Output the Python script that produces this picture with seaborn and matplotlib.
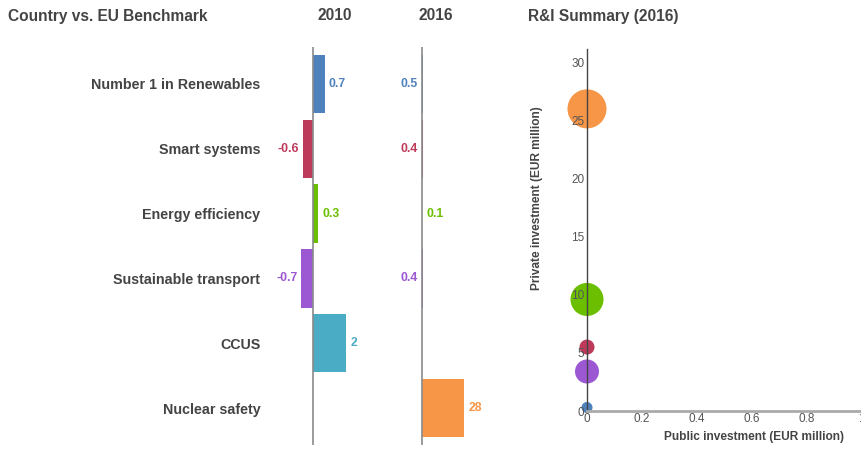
import numpy as np
import pandas as pd
import seaborn as sns
import matplotlib.pyplot as plt

# --- data ---
categories = ['Number 1 in Renewables', 'Smart systems', 'Energy efficiency',
              'Sustainable transport', 'CCUS', 'Nuclear safety']
colors = ['#4F81BD', '#BE3A5A', '#6CBF00', '#9B58D2', '#4BACC6', '#F79646']
vals_2010 = [0.7, -0.6, 0.3, -0.7, 2, np.nan]
vals_2016 = [0.5, 0.4, 0.1, 0.4, np.nan, 28]
# side where the 2016 value label sits (as in the original)
side_2016 = ['left', 'left', 'right', 'left', None, 'right']

# R&I summary bubbles (2016)
bubble_cats = ['Nuclear safety', 'Energy efficiency', 'Smart systems',
               'Sustainable transport', 'Number 1 in Renewables']
public_inv = [0, 0, 0, 0, 0]
private_inv = [26.0, 9.6, 5.5, 3.4, 0.3]
bubble_area = [790, 566, 117, 299, 63]

sns.set_theme(style='white')
plt.rcParams['font.family'] = ['Liberation Sans', 'DejaVu Sans']
TXT = '#444444'
W, H = 862, 449
fig = plt.figure(figsize=(W / 100, H / 100), dpi=100)


def px_axes(x0, y0, x1, y1):
    return fig.add_axes([x0 / W, 1 - y1 / H, (x1 - x0) / W, (y1 - y0) / H])


pal = dict(zip(categories, colors))
df = pd.DataFrame({'cat': categories, 'v2010': vals_2010, 'v2016': vals_2016})


def bar_panel(ax, col, xlim, sides=None, show_labels=False):
    sns.barplot(data=df, x=col, y='cat', hue='cat', palette=pal, orient='h',
                width=0.9, legend=False, ax=ax, saturation=1, linewidth=0)
    ax.set_xlim(*xlim)
    ax.set_ylim(5.57, -0.57)
    ax.axvline(0, color='#8a8a8a', lw=1.2, zorder=3)
    for s in ax.spines.values():
        s.set_visible(False)
    ax.set_xticks([])
    ax.set_xlabel('')
    ax.set_ylabel('')
    ax.tick_params(axis='y', length=0, pad=20)
    if show_labels:
        ax.set_yticklabels(categories, fontsize=10.3, fontweight='bold', color=TXT)
    else:
        ax.set_yticks([])
    for i, v in enumerate(df[col]):
        if np.isnan(v):
            continue
        side = sides[i] if sides else ('right' if v >= 0 else 'left')
        lab = f'{v:g}'
        off = 3 if side == 'right' else -3
        ax.annotate(lab, (max(v, 0) if side == 'right' else min(v, 0), i),
                    xytext=(off, 0), textcoords='offset points',
                    ha='left' if side == 'right' else 'right', va='center',
                    fontsize=8.8, fontweight='bold', color=colors[i])


# 2010 panel: zero at x=313 px, 16.5 px per unit
ax1 = px_axes(288, 47, 382, 445)
bar_panel(ax1, 'v2010', (-25 / 16.5, 69 / 16.5), show_labels=True)

# 2016 panel: zero at x=422 px, 1.5 px per unit
ax2 = px_axes(400, 47, 480, 445)
bar_panel(ax2, 'v2016', (-22 / 1.5, 58 / 1.5), sides=side_2016)

# bubble chart
ax3 = px_axes(587, 49, 861, 411)
bdf = pd.DataFrame({'cat': bubble_cats, 'pub': public_inv, 'priv': private_inv})
sns.scatterplot(data=bdf, x='pub', y='priv', hue='cat', palette=pal,
                size='cat', sizes=dict(zip(bubble_cats, bubble_area)),
                legend=False, linewidth=0, alpha=1, clip_on=False, zorder=1,
                ax=ax3)
ax3.set_axisbelow(False)
ax3.set_xlim(0, 1)
ax3.set_ylim(0, 31.15)
ax3.set_xticks(np.arange(0, 1.01, 0.2))
ax3.set_xticklabels(['0', '0.2', '0.4', '0.6', '0.8', '1'])
ax3.set_yticks(range(0, 31, 5))
ax3.tick_params(length=0, labelsize=8.5, labelcolor='#555555')
ax3.tick_params(axis='y', pad=2)
ax3.tick_params(axis='x', pad=1.5)
for k in ['top', 'right']:
    ax3.spines[k].set_visible(False)
ax3.spines['left'].set_color('#444444')
ax3.spines['left'].set_linewidth(1)
ax3.spines['bottom'].set_color('#aaaaaa')
ax3.spines['bottom'].set_linewidth(2)
ax3.set_xlabel('')
ax3.set_ylabel('')
ax3.set_facecolor('none')

fig.text(537 / W, 1 - 198 / H, 'Private investment (EUR million)', rotation=90,
         ha='center', va='center', fontsize=8.6, fontweight='bold', color=TXT)
fig.text(754 / W, 1 - 437 / H, 'Public investment (EUR million)',
         ha='center', va='center', fontsize=8.6, fontweight='bold', color=TXT)

# titles
fig.text(8 / W, 1 - 16 / H, 'Country vs. EU Benchmark', ha='left', va='center',
         fontsize=11.2, fontweight='bold', color=TXT)
fig.text(335 / W, 1 - 16 / H, '2010', ha='center', va='center',
         fontsize=11.2, fontweight='bold', color=TXT)
fig.text(436 / W, 1 - 16 / H, '2016', ha='center', va='center',
         fontsize=11.2, fontweight='bold', color=TXT)
fig.text(528 / W, 1 - 16 / H, 'R&I Summary (2016)', ha='left', va='center',
         fontsize=11.2, fontweight='bold', color=TXT)

fig.savefig('out.png', dpi=100)
